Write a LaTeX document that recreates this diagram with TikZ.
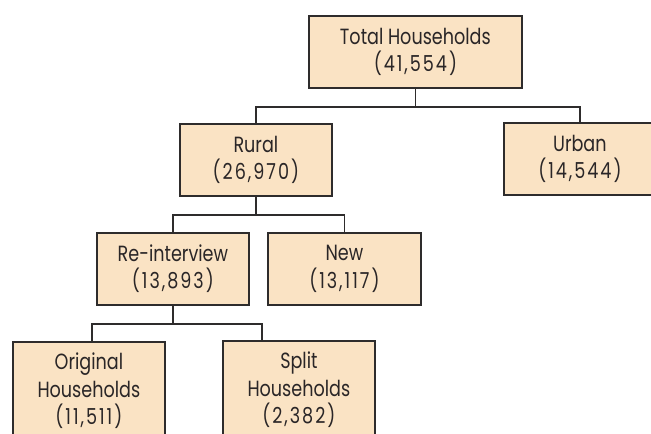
\documentclass[tikz,border=0pt]{standalone}
\usepackage{fontspec}
\setmainfont[FakeStretch=0.8]{Poppins}
\usetikzlibrary{calc}
\definecolor{boxfill}{HTML}{FAE3C4}
\definecolor{boxline}{HTML}{2E2C2C}
\definecolor{txt}{HTML}{2A2627}
\newcommand{\numtxt}[1]{{\addfontfeature{LetterSpace=9}#1}}
\begin{document}
\begin{tikzpicture}[x=1pt,y=-1pt,
  hbox/.style={draw=boxline, line width=1.8pt, fill=boxfill, anchor=north west,
    minimum width=152pt, minimum height=72pt, inner sep=0pt, align=center,
    text=txt, font=\fontsize{22}{27.5}\selectfont},
  link/.style={draw=boxline, line width=1.8pt}]
\clip (0,0) rectangle (651,434);
\fill[white] (0,0) rectangle (651,434);
\node[hbox, minimum width=213pt] (total) at (308,15) {Total Households\\\numtxt{(41,554)}};
\node[hbox] (rural) at (179,123) {Rural\\\numtxt{(26,970)}};
\node[hbox] (urban) at (503,122) {Urban\\\numtxt{(14,544)}};
\node[hbox] (reint) at (96,232) {Re-interview\\\numtxt{(13,893)}};
\node[hbox, minimum width=153pt] (new) at (267,232) {New\\\numtxt{(13,117)}};
\node[hbox, minimum height=98pt] (orig) at (12,341) {Original\\Households\\\numtxt{(11,511)}};
\node[hbox, minimum height=98pt] (split) at (222,340) {Split\\Households\\\numtxt{(2,382)}};
% connectors
\coordinate (j1) at ($(total.south)+(0,18)$);
\draw[link] (total.south) -- (j1);
\draw[link] (rural.north) |- (j1) -| (urban.north);
\coordinate (j2) at ($(rural.south)+(0,18.5)$);
\draw[link] (rural.south) -- (j2);
\draw[link] (reint.north) |- (j2) -| (new.north);
\coordinate (j3) at ($(reint.south)+(0,18.5)$);
\coordinate (origtop) at ($(orig.north west)+(80,0)$);
\coordinate (splittop) at ($(split.north west)+(40,0)$);
\draw[link] (reint.south) -- (j3);
\draw[link] (origtop) |- (j3) -| (splittop);
\end{tikzpicture}
\end{document}
